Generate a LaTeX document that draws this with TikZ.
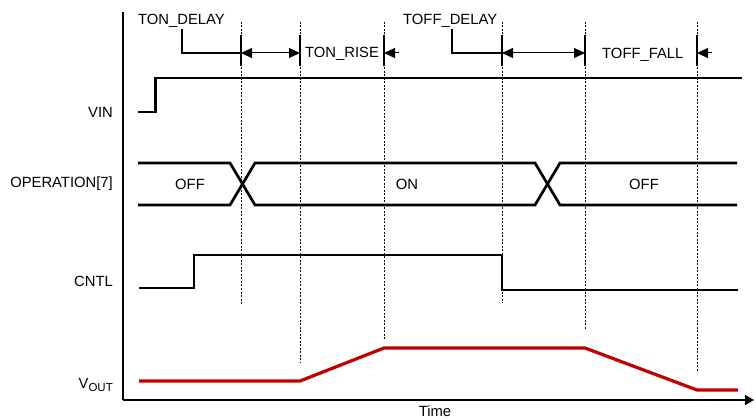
\documentclass[tikz,border=0pt]{standalone}
\usepackage{fontspec}
\setmainfont{Liberation Sans}
\usetikzlibrary{arrows.meta}
\begin{document}
\begin{tikzpicture}[x=1pt,y=-1pt,
  lbl/.style={font=\fontsize{14.8}{17}\selectfont, inner sep=0pt},
  sig/.style={line width=2.7pt, line join=miter},
  voutsig/.style={line width=3.2pt, draw=voutred, line join=round},
  guide/.style={line width=1pt, dash pattern=on 2pt off 1.5pt},
  ticker/.style={line width=2.2pt},
  leader/.style={line width=1.8pt},
  dimarrow/.style={line width=1pt, {Triangle[length=11pt,width=10pt]}-{Triangle[length=11pt,width=10pt]}},
  onearrow/.style={line width=1pt, -{Triangle[length=11pt,width=10pt]}},
  axis/.style={line width=1.6pt}
]
\definecolor{voutred}{RGB}{192,0,0}
\useasboundingbox (0,0) rectangle (754,419);

% axes
\coordinate (origin) at (123,400);
\coordinate (ytop) at (123,12);
\coordinate (xend) at (754,400);
\draw[axis] (ytop) -- (origin);
\draw[axis, -{Triangle[length=9pt,width=10pt]}] (origin) -- (xend);
\node[lbl] (time) at (435,411.5) {Time};

% signal labels
\node[lbl, anchor=east] (vin) at (113,112) {VIN};
\node[lbl, anchor=east] (op) at (113,184) {OPERATION[7]};
\node[lbl, anchor=east] (cntl) at (113,281) {CNTL};
\node[lbl, anchor=base east] (vout) at (113,388) {V\raisebox{-3pt}{\fontsize{11.5}{12}\selectfont OUT}};

% guide lines
\foreach \n/\x/\yb in {g1/241/305, g2/300/362, g3/384/340, g4/502/303, g5/585/329, g6/697/372}{
  \coordinate (\n t) at (\x,22);
  \coordinate (\n b) at (\x,\yb);
  \draw[guide] (\n t) -- (\n b);
}

% ticks
\foreach \n/\x in {k1/241, k2/300, k3/384, k4/502, k5/585, k6/697}{
  \coordinate (\n t) at (\x,35);
  \coordinate (\n b) at (\x,66);
  \coordinate (\n m) at (\x,53);
  \draw[ticker] (\n t) -- (\n b);
}

% top annotations
\node[lbl, anchor=base west] (tondelay) at (138,25) {TON\_DELAY};
\node[lbl, anchor=base west] (tonrise) at (305,58) {TON\_RISE};
\node[lbl, anchor=base west] (toffdelay) at (403,25) {TOFF\_DELAY};
\node[lbl, anchor=base west] (tofffall) at (602,59) {TOFF\_FALL};

\coordinate (l1a) at (182,29);
\coordinate (l1b) at (182,53);
\draw[leader] (l1a) -- (l1b) -- (k1m);
\coordinate (l2a) at (452,29);
\coordinate (l2b) at (452,53);
\draw[leader] (l2a) -- (l2b) -- (k4m);

\draw[dimarrow] (k1m) -- (k2m);
\draw[dimarrow] (k4m) -- (k5m);
\coordinate (a3) at (399,53);
\draw[onearrow] (a3) -- (k3m);
\coordinate (a6) at (712,53);
\draw[onearrow] (a6) -- (k6m);

% VIN
\draw[sig] (138,112) -- (155.5,112) -- (155.5,78) -- (742,78);

% OPERATION
\draw[sig] (138,163) -- (230,163) -- (255,205) -- (535,205) -- (560,163) -- (737,163);
\draw[sig] (138,205) -- (230,205) -- (255,163) -- (535,163) -- (560,205) -- (737,205);
\node[lbl] (opoff1) at (190,184) {OFF};
\node[lbl] (opon) at (407,184) {ON};
\node[lbl] (opoff2) at (644,184) {OFF};

% CNTL
\draw[sig] (139,288) -- (194,288) -- (194,255) -- (502,255) -- (502,290) -- (738,290);

% VOUT
\draw[voutsig] (139,381) -- (300,381) -- (384,348) -- (585,348) -- (697,390) -- (738,390);
\end{tikzpicture}
\end{document}
